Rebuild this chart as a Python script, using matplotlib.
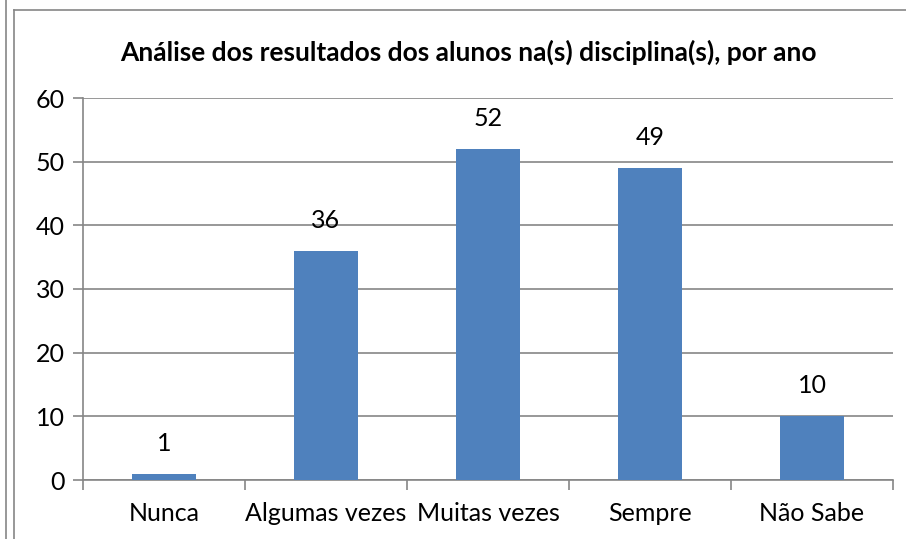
import matplotlib.pyplot as plt
from matplotlib.lines import Line2D
import numpy as np

plt.rcParams['font.family'] = ['Lato', 'DejaVu Sans']

categories = ['Nunca', 'Algumas vezes', 'Muitas vezes', 'Sempre', 'Não Sabe']
values = [1, 36, 52, 49, 10]
title = 'Análise dos resultados dos alunos na(s) disciplina(s), por ano'

W, H = 906, 539
fig = plt.figure(figsize=(W / 100, H / 100), dpi=100)

# frame lines of the embedded chart
grey = '#868686'
fig.add_artist(Line2D([6 / W, 6 / W], [0, 1], color=grey, lw=1.2))
fig.add_artist(Line2D([14 / W, 14 / W], [0, 1 - 10 / H], color=grey, lw=1.2))
fig.add_artist(Line2D([14 / W, 1], [1 - 10 / H, 1 - 10 / H], color=grey, lw=1.2))

ax = fig.add_axes([83 / W, 1 - 480 / H, (893 - 83) / W, (480 - 98) / H])
x = np.arange(len(categories))
bars = ax.bar(x, values, width=0.4, color='#4F81BD', zorder=3)
for xi, v in zip(x, values):
    ax.text(xi, v + 3, str(v), ha='center', va='bottom', fontsize=18)

ax.set_xlim(-0.5, len(categories) - 0.5)
ax.set_ylim(0, 60)
ax.set_yticks(range(0, 61, 10))
ax.yaxis.grid(True, color=grey, lw=1.2, zorder=0)
ax.set_xticks(x)
ax.set_xticklabels(categories, fontsize=18)
ax.tick_params(axis='x', length=0, pad=16)
ax.set_xticks(np.arange(-0.5, len(categories)), minor=True)
ax.tick_params(axis='x', which='minor', length=7, width=1.2, color=grey)
ax.tick_params(axis='y', length=7, width=1.2, color=grey, labelsize=18, pad=6)
for s in ['top', 'right']:
    ax.spines[s].set_visible(False)
for s in ['left', 'bottom']:
    ax.spines[s].set_color(grey)
    ax.spines[s].set_linewidth(1.2)

fig.text(468 / W, 1 - 52 / H, title, ha='center', va='center',
         fontsize=19, fontweight='bold')

fig.savefig('out.png', dpi=100)
